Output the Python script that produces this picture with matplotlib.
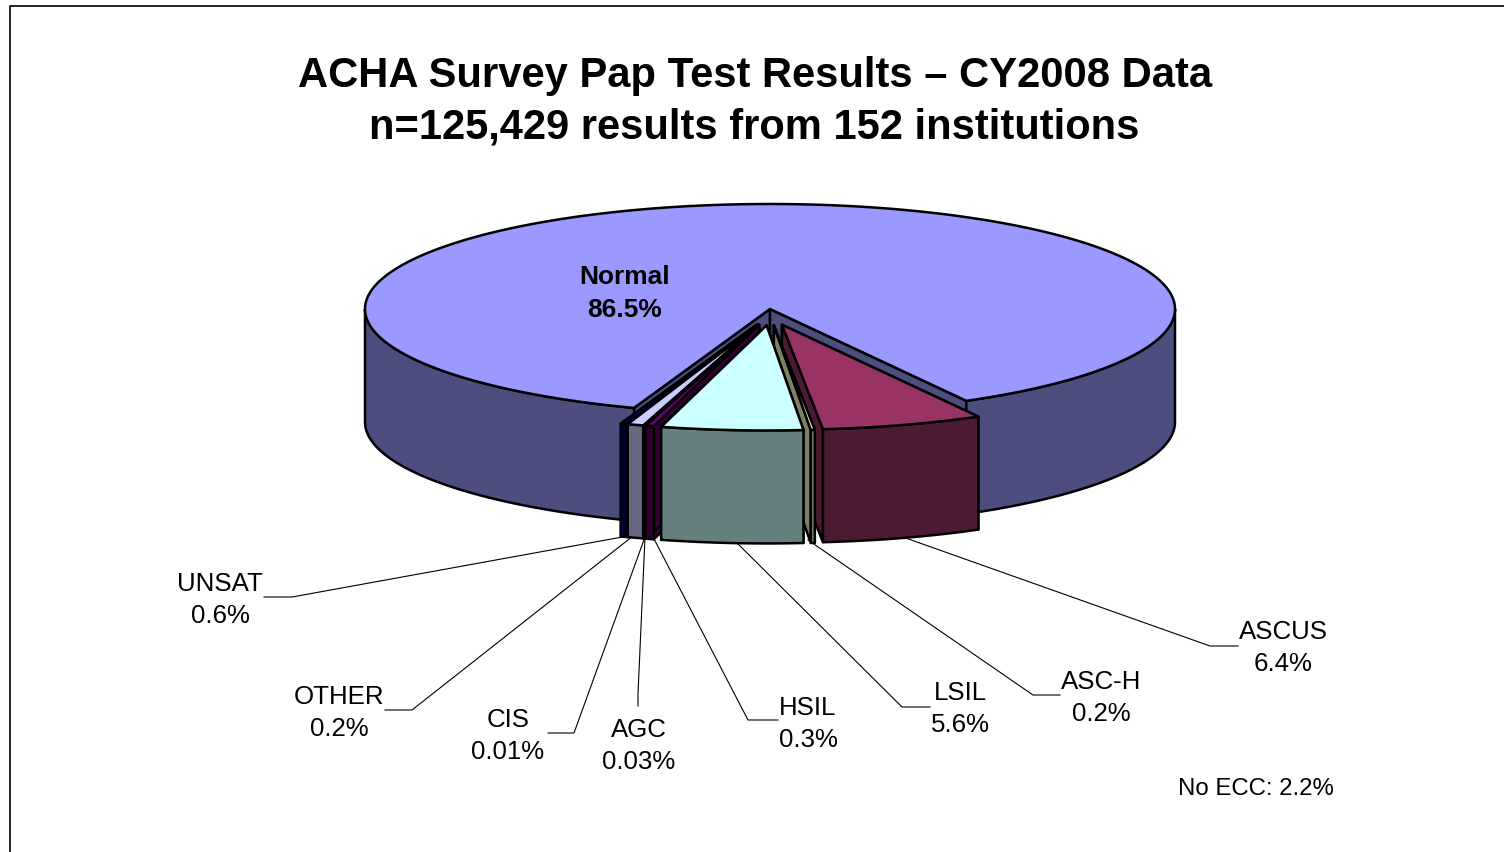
import numpy as np
import matplotlib
matplotlib.use('Agg')
import matplotlib.pyplot as plt
from matplotlib.patches import Polygon

plt.rcParams['font.family'] = ['Liberation Sans', 'DejaVu Sans']

#slices, clockwise starting at the right edge of the notch
names = ['ASCUS', 'ASC-H', 'LSIL', 'HSIL', 'AGC', 'CIS', 'UNSAT', 'OTHER', 'Normal']
values = [6.44, 0.16, 5.64, 0.34, 0.03, 0.01, 0.64, 0.24, 86.46]
value_text = ['6.4%', '0.2%', '5.6%', '0.3%', '0.03%', '0.01%', '0.6%', '0.2%', '86.5%']
top_colors = ['#993366', '#FFFFCC', '#CCFFFF', '#660066', '#FF8080', '#0066CC', '#CCCCFF', '#000080', '#9999FF']
side_colors = ['#4D1A33', '#808066', '#668080', '#330033', '#804040', '#003366', '#666680', '#000040', '#4D4D80']

#pie geometry in pixels
cx, cy = 770, 310
rx, ry = 405, 105
depth = 113
start_angle = 61
ex, ey = 40, 16.5  #how far the small slices are pulled out
lw = 1.8

#label centre x, first line y, leader: label side x, elbow x, elbow y, slice x, slice y
label_x = [1283, 1101, 960, 808, 639, 508, 220, 339]
label_y = [632, 682, 693, 708, 730, 720, 584, 697]
leaders = [
    [(1238, 647), (1210, 647), (900, 537)],
    [(1060, 696), (1033, 696), (808, 541)],
    [(930, 708), (902, 708), (735, 542)],
    [(778, 721), (748, 721), (653, 538)],
    [(638, 707), (638, 695), (645, 538)],
    [(548, 734), (574, 734), (645, 538)],
    [(264, 598), (292, 598), (628, 537)],
    [(385, 711), (412, 711), (633, 537)],
]

fig = plt.figure(figsize=(15.04, 8.53), dpi=100)
ax = fig.add_axes([0, 0, 1, 1])
ax.set_xlim(0, 1504)
ax.set_ylim(853, 0)
ax.axis('off')


def rim(a, ox, oy, dz=0):
    t = np.radians(a)
    return np.column_stack([ox + rx * np.cos(t), oy + ry * np.sin(t) + dz])


def poly(pts, color, z):
    ax.add_patch(Polygon(pts, closed=True, facecolor=color, edgecolor='black',
                         linewidth=lw, joinstyle='round', zorder=z))


def draw_slice(a0, a1, ox, oy, top, side, z):
    apex = np.array([[ox, oy]])
    down = np.array([[0, depth]])
    #inner walls
    for a in [a0, a1]:
        p = rim(np.array([a]), ox, oy)
        poly(np.vstack([apex, p, p + down, apex + down]), side, z)
    #outer wall, only the front half shows
    lo, hi = max(a0, 0), min(a1, 180)
    if hi > lo:
        aa = np.linspace(lo, hi, 200)
        poly(np.vstack([rim(aa, ox, oy), rim(aa[::-1], ox, oy, depth)]), side, z)
    if a1 > 360:
        aa = np.linspace(360, a1, 200)
        poly(np.vstack([rim(aa, ox, oy), rim(aa[::-1], ox, oy, depth)]), side, z)
    aa = np.linspace(a0, a1, 600)
    poly(np.vstack([apex, rim(aa, ox, oy)]), top, z)


fracs = np.array(values) / sum(values)
edges = start_angle + 360 * np.concatenate([[0], np.cumsum(fracs)])

#Normal stays in place and is drawn first
draw_slice(edges[8], edges[9], cx, cy, top_colors[8], side_colors[8], 1)

#pulled out slices from both sides towards the middle one (LSIL)
order = [0, 1, 7, 6, 5, 4, 3, 2]
for n, i in enumerate(order):
    m = np.radians((edges[i] + edges[i + 1]) / 2)
    ox = cx + ex * np.cos(m)
    oy = cy + ey * np.sin(m)
    draw_slice(edges[i], edges[i + 1], ox, oy, top_colors[i], side_colors[i], 2 + n)

#labels and leader lines
for i in range(8):
    ax.text(label_x[i], label_y[i], names[i], fontsize=18.6, ha='center', va='center', zorder=30)
    ax.text(label_x[i], label_y[i] + 32, value_text[i], fontsize=18.6, ha='center', va='center', zorder=30)
    pts = np.array(leaders[i])
    ax.plot(pts[:, 0], pts[:, 1], color='black', lw=0.8, zorder=0.5)

ax.text(625, 277, names[8], fontsize=18.9, fontweight='bold', ha='center', va='center', zorder=30)
ax.text(625, 310, value_text[8], fontsize=18.9, fontweight='bold', ha='center', va='center', zorder=30)

ax.text(755, 76, 'ACHA Survey Pap Test Results \u2013 CY2008 Data', fontsize=30.1, fontweight='bold',
        ha='center', va='center')
ax.text(754, 127, 'n=125,429 results from 152 institutions', fontsize=30, fontweight='bold',
        ha='center', va='center')
ax.text(1256, 789, 'No ECC: 2.2%', fontsize=17.3, ha='center', va='center')

#slide frame
ax.plot([10, 10, 1504], [853, 6.5, 6.5], color='black', lw=1.2, zorder=0)

fig.savefig('out.png', dpi=100)
